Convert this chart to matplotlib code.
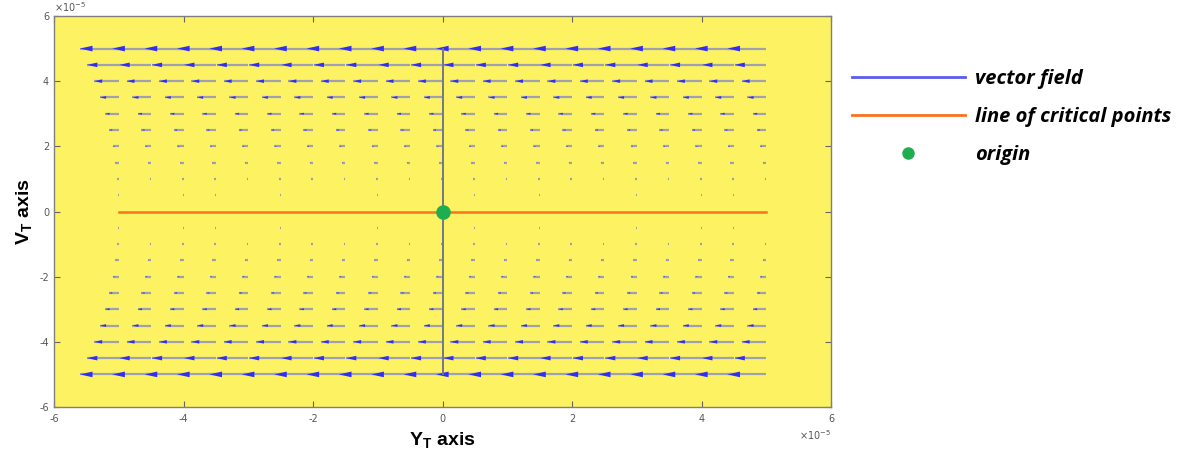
import numpy as np
import matplotlib
matplotlib.use('Agg')
import matplotlib.pyplot as plt
from matplotlib.lines import Line2D

# --- Data (in units of 1e-5) ---
scale = 1e-5
grid_pos = [-5.0, -4.5, -4.0, -3.5, -3.0, -2.5, -2.0, -1.5, -1.0, -0.5, 0.0,
            0.5, 1.0, 1.5, 2.0, 2.5, 3.0, 3.5, 4.0, 4.5, 5.0]
# horizontal arrow component for each row (same for all columns)
row_u = [-0.60, -0.49, -0.38, -0.29, -0.21, -0.15, -0.095, -0.054, -0.024, -0.006, 0.0,
         -0.006, -0.024, -0.054, -0.095, -0.15, -0.21, -0.29, -0.38, -0.49, -0.60]
crit_line_x = [-5.0, 5.0]
crit_line_y = [0.0, 0.0]
vert_line_x = [0.0, 0.0]
vert_line_y = [-5.0, 5.0]
origin = [0.0, 0.0]
tick_vals = [-6, -4, -2, 0, 2, 4, 6]
tick_labels = ['-6', '-4', '-2', '0', '2', '4', '6']

# --- Styling ---
yellow = '#fdf261'
shaft_col = '#9fa0b0'
head_col = '#2f2ff5'
orange = '#f8731f'
green = '#1fae4f'

fig = plt.figure(figsize=(11.89, 4.59), dpi=100)
ax = fig.add_axes([54 / 1189, 52 / 459, 777 / 1189, 391 / 459])
ax.set_facecolor(yellow)

X, Y = np.meshgrid(np.array(grid_pos) * scale, np.array(grid_pos) * scale)
U = np.repeat(np.array(row_u)[:, None] * scale, len(grid_pos), axis=1)
tips = X + U

# shafts
ax.hlines(Y.ravel(), X.ravel(), tips.ravel(), color=shaft_col, lw=1.6, zorder=2)
# heads, sized with the arrow length
head = [(0, 0), (2, 0.45), (2, -0.45)]
sizes = (np.abs(U.ravel()) / (0.6 * scale)) ** 2 * 330
ax.scatter(tips.ravel(), Y.ravel(), s=sizes, marker=head, color=head_col,
           linewidths=0, zorder=3)

ax.plot(np.array(vert_line_x) * scale, np.array(vert_line_y) * scale,
        color='#72778a', lw=1.4, zorder=4)
ax.plot(np.array(crit_line_x) * scale, np.array(crit_line_y) * scale,
        color=orange, lw=1.8, zorder=5)
ax.plot(origin[0] * scale, origin[1] * scale, 'o', color=green, ms=9.5,
        mec=green, zorder=6)

ax.set_xlim(-6e-5, 6e-5)
ax.set_ylim(-6e-5, 6e-5)
ax.set_xticks(np.array(tick_vals) * scale)
ax.set_xticklabels(tick_labels)
ax.set_yticks(np.array(tick_vals) * scale)
ax.set_yticklabels(tick_labels)
ax.tick_params(direction='in', top=True, right=True, length=4, width=0.8,
               colors='#666666', labelsize=7, labelcolor='#555555')
ax.tick_params(axis='x', pad=5)
for sp in ax.spines.values():
    sp.set_color('#7f7f7f')
    sp.set_linewidth(1.0)

# exponent labels
ax.text(0.0, 1.005, r'$\times\mathregular{10}^{\mathregular{-5}}$', transform=ax.transAxes,
        ha='left', va='bottom', fontsize=7, color='#555555')
ax.text(1.0, -0.055, r'$\times\mathregular{10}^{\mathregular{-5}}$', transform=ax.transAxes,
        ha='right', va='top', fontsize=7, color='#555555')

ax.set_xlabel(r'Y$_\mathregular{T}$ axis', fontsize=14, fontweight='bold',
              family='Liberation Sans', labelpad=5)
ax.set_ylabel(r'V$_\mathregular{T}$ axis', fontsize=14, fontweight='bold',
              family='Liberation Sans', labelpad=3)

# --- Legend outside on the right ---
handles = [
    Line2D([], [], color='#5b5bef', lw=2),
    Line2D([], [], color=orange, lw=2),
    Line2D([], [], color=green, marker='o', ls='none', ms=8),
]
labels = ['vector field', 'line of critical points', 'origin']
fig.legend(handles, labels, loc='upper left', bbox_to_anchor=(852 / 1189, 1 - 69 / 459),
           frameon=False, handlelength=5.6, handletextpad=0.5, labelspacing=0.9,
           borderpad=0, borderaxespad=0,
           prop={'family': ['Open Sans', 'DejaVu Sans'], 'weight': 'bold',
                 'style': 'italic', 'size': 14.5})

fig.savefig('out.png', dpi=100)
